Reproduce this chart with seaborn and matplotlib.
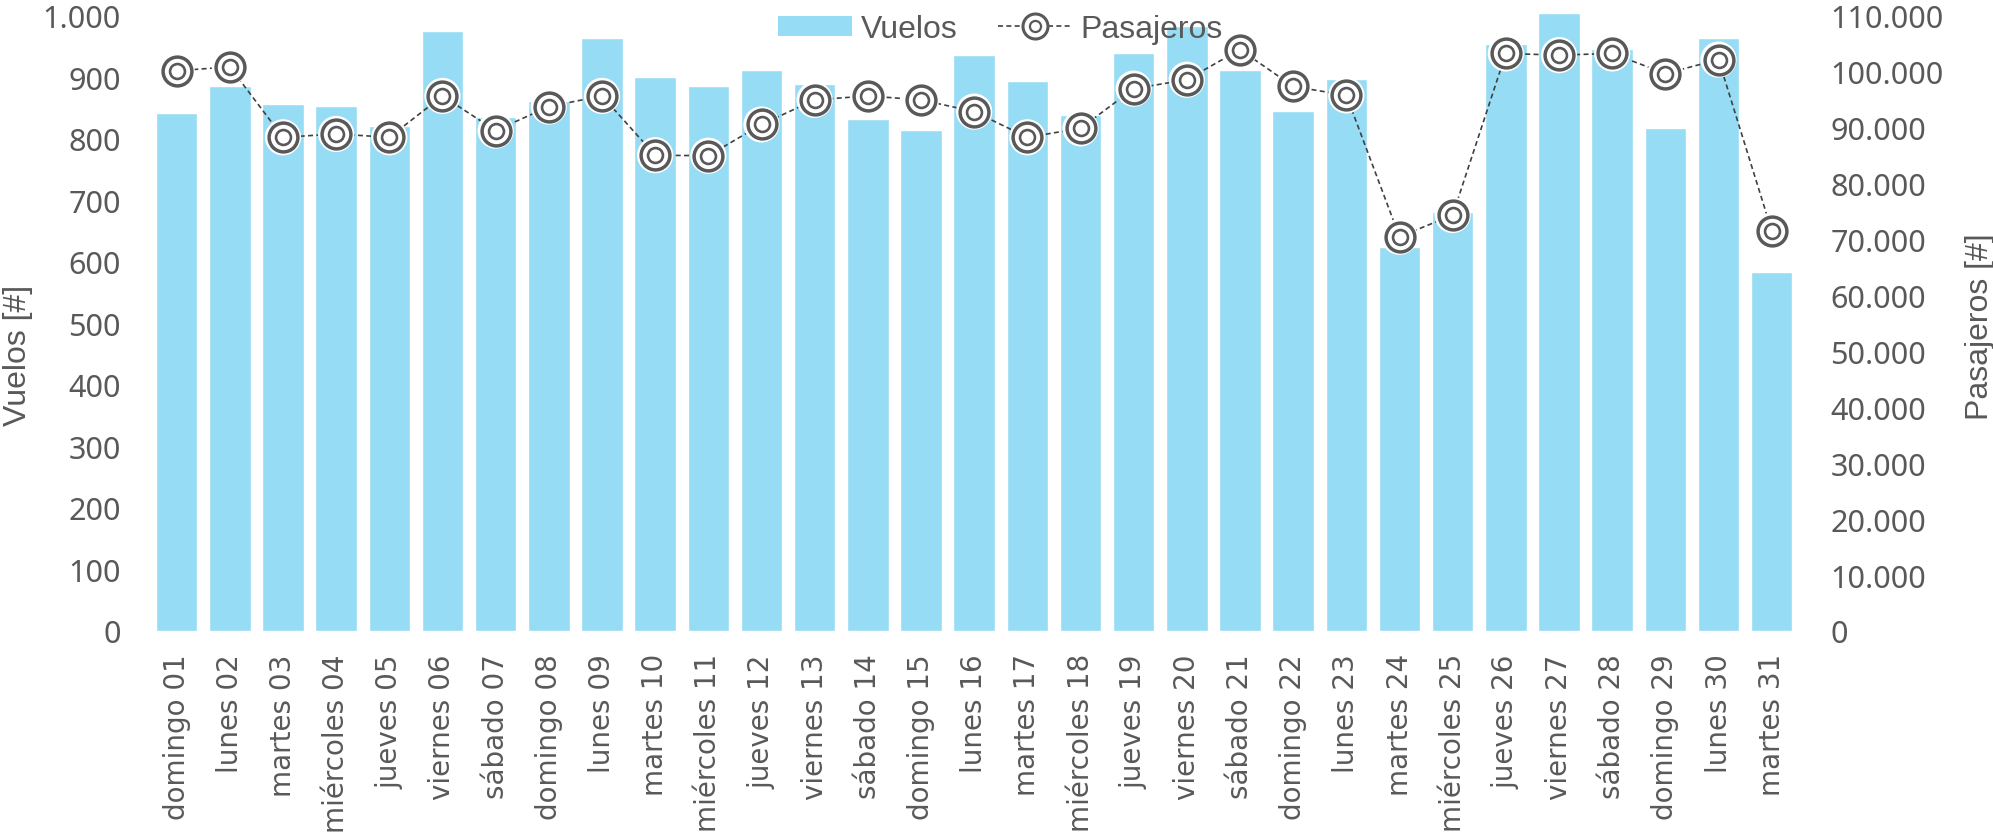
# -*- coding: utf-8 -*-
""" Vuelos y pasajeros diarios """

import pandas as pd
import numpy as np
import matplotlib.pyplot as plt
import seaborn as sns
from matplotlib.ticker import FuncFormatter, MultipleLocator
from matplotlib.lines import Line2D
from matplotlib.patches import Patch

# ------------------------------ Datos ------------------------------

dias = ["domingo 01", "lunes 02", "martes 03", "miércoles 04", "jueves 05",
        "viernes 06", "sábado 07", "domingo 08", "lunes 09", "martes 10",
        "miércoles 11", "jueves 12", "viernes 13", "sábado 14", "domingo 15",
        "lunes 16", "martes 17", "miércoles 18", "jueves 19", "viernes 20",
        "sábado 21", "domingo 22", "lunes 23", "martes 24", "miércoles 25",
        "jueves 26", "viernes 27", "sábado 28", "domingo 29", "lunes 30",
        "martes 31"]

vuelos = [843, 886, 857, 854, 821, 976, 836, 861, 965, 900,
          886, 912, 889, 832, 814, 936, 894, 839, 940, 984,
          912, 846, 897, 624, 681, 954, 1005, 947, 818, 965, 584]

pasajeros = [100200, 100900, 88300, 88900, 88300, 95700, 89500, 93800, 95700, 85100,
             85000, 90600, 95000, 95700, 95000, 92900, 88300, 89900, 97000, 98600,
             104000, 97400, 95800, 70500, 74400, 103300, 103000, 103300, 99700, 102200,
             71600]

df = pd.DataFrame({"dia": dias, "vuelos": vuelos, "pasajeros": pasajeros})
df["pos"] = np.arange(len(df))

# ------------------------------ Estilo ------------------------------

AZUL = "#97DCF5"
GRIS = "#595959"
LINEA = "#404040"

sns.set_style("white")
plt.rcParams["font.family"] = ["Liberation Sans", "DejaVu Sans"]

miles = FuncFormatter(lambda v, p: f"{v:,.0f}".replace(",", "."))

# ------------------------------ Gráfico ------------------------------

fig = plt.figure(figsize=(19.93, 8.37), dpi=100)
ax = fig.add_axes([0.0753, 0.245, 0.827, 0.7347])

sns.barplot(data=df, x="dia", y="vuelos", color=AZUL, saturation=1,
            width=0.78, ax=ax)
for b in ax.patches:
    b.set_clip_on(False)

ax2 = ax.twinx()
sns.lineplot(data=df, x="pos", y="pasajeros", ax=ax2, color=LINEA,
             linewidth=1.2, linestyle=(0, (3, 2)), zorder=2)
# marcador de doble anillo
sns.scatterplot(data=df, x="pos", y="pasajeros", ax=ax2, s=680, color="white",
                edgecolor="none", zorder=3, clip_on=False)
sns.scatterplot(data=df, x="pos", y="pasajeros", ax=ax2, s=430, color="white",
                edgecolor=GRIS, linewidth=2.5, zorder=4, clip_on=False)
sns.scatterplot(data=df, x="pos", y="pasajeros", ax=ax2, s=115, color="white",
                edgecolor=GRIS, linewidth=1.9, zorder=5, clip_on=False)

ax.set_xlim(-0.5, len(df) - 0.5)
ax.set_ylim(0, 1000)
ax2.set_ylim(0, 110000)

ax.yaxis.set_major_locator(MultipleLocator(100))
ax.yaxis.set_major_formatter(miles)
ax2.yaxis.set_major_locator(MultipleLocator(10000))
ax2.yaxis.set_major_formatter(miles)

ax.tick_params(axis="x", length=0, pad=16, labelsize=20, labelcolor=GRIS, rotation=90)
ax.tick_params(axis="y", length=0, pad=21, labelcolor=GRIS)
ax2.tick_params(axis="y", length=0, pad=23, labelcolor=GRIS)
for lbl in ax.get_xticklabels():
    lbl.set_family(["DejaVu Sans"])
for lbl in ax.get_yticklabels() + ax2.get_yticklabels():
    lbl.set_family(["Noto Sans", "DejaVu Sans"])
    lbl.set_fontsize(22)

ax.set_xlabel("")
ax2.set_xlabel("")
ax.set_ylabel("Vuelos [#]", fontsize=23, color=GRIS)
ax2.set_ylabel("Pasajeros [#]", fontsize=23, color=GRIS)
ax.yaxis.set_label_coords(-0.071, 0.45)
ax2.yaxis.set_label_coords(1.101, 0.496)

for a in (ax, ax2):
    for s in a.spines.values():
        s.set_visible(False)

# ------------------------------ Leyenda ------------------------------

h_vuelos = Patch(facecolor=AZUL, edgecolor="none")
h_pax = (Line2D([], [], color=LINEA, linewidth=1.2, linestyle=(0, (3, 2))),
         Line2D([], [], linestyle="none", marker="o", markersize=18,
                markerfacecolor="white", markeredgecolor=GRIS, markeredgewidth=2.2),
         Line2D([], [], linestyle="none", marker="o", markersize=8,
                markerfacecolor="white", markeredgecolor=GRIS, markeredgewidth=1.6))
ax2.legend([h_vuelos, h_pax], ["Vuelos", "Pasajeros"], loc="center",
           bbox_to_anchor=(0.516, 0.979), ncol=2, frameon=False,
           fontsize=23, labelcolor=GRIS, handlelength=2.3, handleheight=0.6,
           handletextpad=0.3, columnspacing=1.25)

fig.savefig("out.png", dpi=100)
